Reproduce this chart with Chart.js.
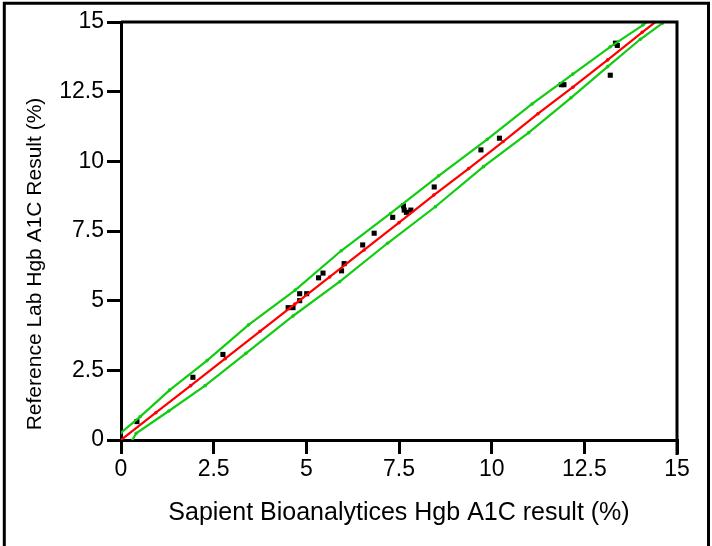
<!DOCTYPE html>
<html>
<head>
<meta charset="utf-8">
<script src="https://cdn.jsdelivr.net/npm/chart.js@4.4.1/dist/chart.umd.min.js"></script>
<style>
    html, body { margin: 0; padding: 0; background: #fff; }
    #wrap { width: 712px; height: 546px; }
</style>
</head>
<body>
<div id="wrap"><canvas id="a1cChart" width="712" height="546"></canvas></div>
<script>
// measured pairs (Sapient vs reference lab)
const sapientX = [0.43, 1.94, 2.75, 4.51, 4.64, 4.82, 4.82, 5.01, 5.33, 5.45, 5.95, 6.02, 6.52, 6.83,
    7.33, 7.62, 7.64, 7.70, 7.82, 8.45, 9.71, 10.21, 11.88, 11.95, 13.20, 13.34, 13.39];
const referenceY = [0.66, 2.25, 3.07, 4.75, 4.75, 5.00, 5.25, 5.25, 5.82, 5.99, 6.07, 6.33, 7.00, 7.42,
    7.99, 8.40, 8.25, 8.17, 8.25, 9.08, 10.41, 10.83, 12.75, 12.75, 13.09, 14.24, 14.16];

// regression line (red)
const fitX = [0, 0.94, 1.88, 2.81, 3.75, 4.69, 5.63, 6.56, 7.5, 8.44, 9.38, 10.31, 11.25, 12.19, 13.13, 14.06, 15];
const fitY = [0, 0.98, 1.95, 2.92, 3.9, 4.88, 5.85, 6.82, 7.8, 8.79, 9.74, 10.71, 11.71, 12.66, 13.64, 14.63, 15.6];

// upper / lower limits (green)
const upperX = [0, 0.52, 1.31, 2.32, 3.44, 4.70, 5.94, 7.27, 8.57, 9.88, 11.09, 12.19, 13.20, 14.08, 15];
const upperY = [0.26, 0.84, 1.79, 2.85, 4.13, 5.38, 6.79, 8.13, 9.48, 10.79, 12.06, 13.13, 14.11, 14.89, 15.8];
const lowerX = [0.23, 0.41, 1.29, 2.27, 3.37, 4.64, 5.90, 7.19, 8.48, 9.78, 11.0, 12.14, 13.13, 14.01, 14.6, 15];
const lowerY = [-0.18, 0.24, 1.04, 1.95, 3.11, 4.45, 5.68, 7.06, 8.37, 9.81, 11.03, 12.28, 13.40, 14.38, 14.95, 15.4];

const xTickLabels = ['0', '2.5', '5', '7.5', '10', '12.5', '15'];
const yTickLabels = ['0', '2.5', '5', '7.5', '10', '12.5', '15'];
const yTitle = 'Reference Lab Hgb A1C Result (%)';

const RED = '#ff0000';
const GREEN = '#11cc11';
const FONT = 'Liberation Sans, Arial, sans-serif';

function pairs(xs, ys) {
    return xs.map((x, i) => ({ x: x, y: ys[i] }));
}

// plot frame (top + right), the outer picture border and the y title
const frames = {
    id: 'frames',
    afterDraw(chart) {
        const ctx = chart.ctx;
        const a = chart.chartArea;
        ctx.save();
        ctx.strokeStyle = '#000';
        ctx.lineWidth = 3;
        ctx.beginPath();
        ctx.moveTo(a.left, a.top);
        ctx.lineTo(a.right, a.top);
        ctx.lineTo(a.right, a.bottom + 15);
        ctx.stroke();
        ctx.beginPath();
        ctx.moveTo(4.3, 546);
        ctx.lineTo(4.3, 3.2);
        ctx.lineTo(708.5, 3.2);
        ctx.lineTo(708.5, 546);
        ctx.stroke();

        // title sits a bit below the axis middle in the original
        ctx.translate(35, 264);
        ctx.rotate(-Math.PI / 2);
        ctx.fillStyle = '#000';
        ctx.font = '21px ' + FONT;
        ctx.textAlign = 'center';
        ctx.textBaseline = 'middle';
        ctx.fillText(yTitle, 0, 0);
        ctx.restore();
    }
};

const lineStyle = (color) => ({
    type: 'line',
    showLine: true,
    borderColor: color,
    backgroundColor: color,
    borderWidth: 2.2,
    pointRadius: 1.8,
    pointStyle: 'circle',
    pointBorderWidth: 0,
    tension: 0,
    fill: false
});

new Chart(document.getElementById('a1cChart'), {
    type: 'scatter',
    data: {
        datasets: [
            Object.assign({ label: 'Upper', data: pairs(upperX, upperY) }, lineStyle(GREEN)),
            Object.assign({ label: 'Lower', data: pairs(lowerX, lowerY) }, lineStyle(GREEN)),
            Object.assign({ label: 'Fit', data: pairs(fitX, fitY) }, lineStyle(RED)),
            {
                label: 'Samples',
                data: pairs(sapientX, referenceY),
                pointStyle: 'rect',
                pointRadius: 3.6,
                pointBorderWidth: 0,
                backgroundColor: '#000',
                borderColor: '#000'
            }
        ]
    },
    options: {
        responsive: false,
        animation: false,
        devicePixelRatio: 1,
        layout: { padding: { top: 22, right: 35, left: 0, bottom: 0 } },
        plugins: {
            legend: { display: false },
            tooltip: { enabled: false }
        },
        scales: {
            x: {
                type: 'linear',
                min: 0,
                max: 15,
                afterFit: (scale) => { scale.height = 106; },
                border: { display: true, color: '#000', width: 3 },
                grid: { drawOnChartArea: false, drawTicks: true, tickLength: 14, color: '#000', lineWidth: 3 },
                ticks: {
                    stepSize: 2.5,
                    padding: 2,
                    color: '#000',
                    font: { family: FONT, size: 23 },
                    callback: (v, i) => xTickLabels[i]
                },
                title: {
                    display: true,
                    text: 'Sapient Bioanalytices Hgb A1C result (%)',
                    color: '#000',
                    font: { family: FONT, size: 25 },
                    padding: { top: 0, bottom: 18 }
                }
            },
            y: {
                type: 'linear',
                min: 0,
                max: 15,
                afterFit: (scale) => { scale.width = 121; },
                border: { display: true, color: '#000', width: 3 },
                grid: { drawOnChartArea: false, drawTicks: true, tickLength: 14, color: '#000', lineWidth: 3 },
                ticks: {
                    stepSize: 2.5,
                    padding: 3,
                    color: '#000',
                    font: { family: FONT, size: 23 },
                    callback: (v, i) => yTickLabels[i]
                },
                title: { display: false }
            }
        }
    },
    plugins: [frames]
});
</script>
</body>
</html>
